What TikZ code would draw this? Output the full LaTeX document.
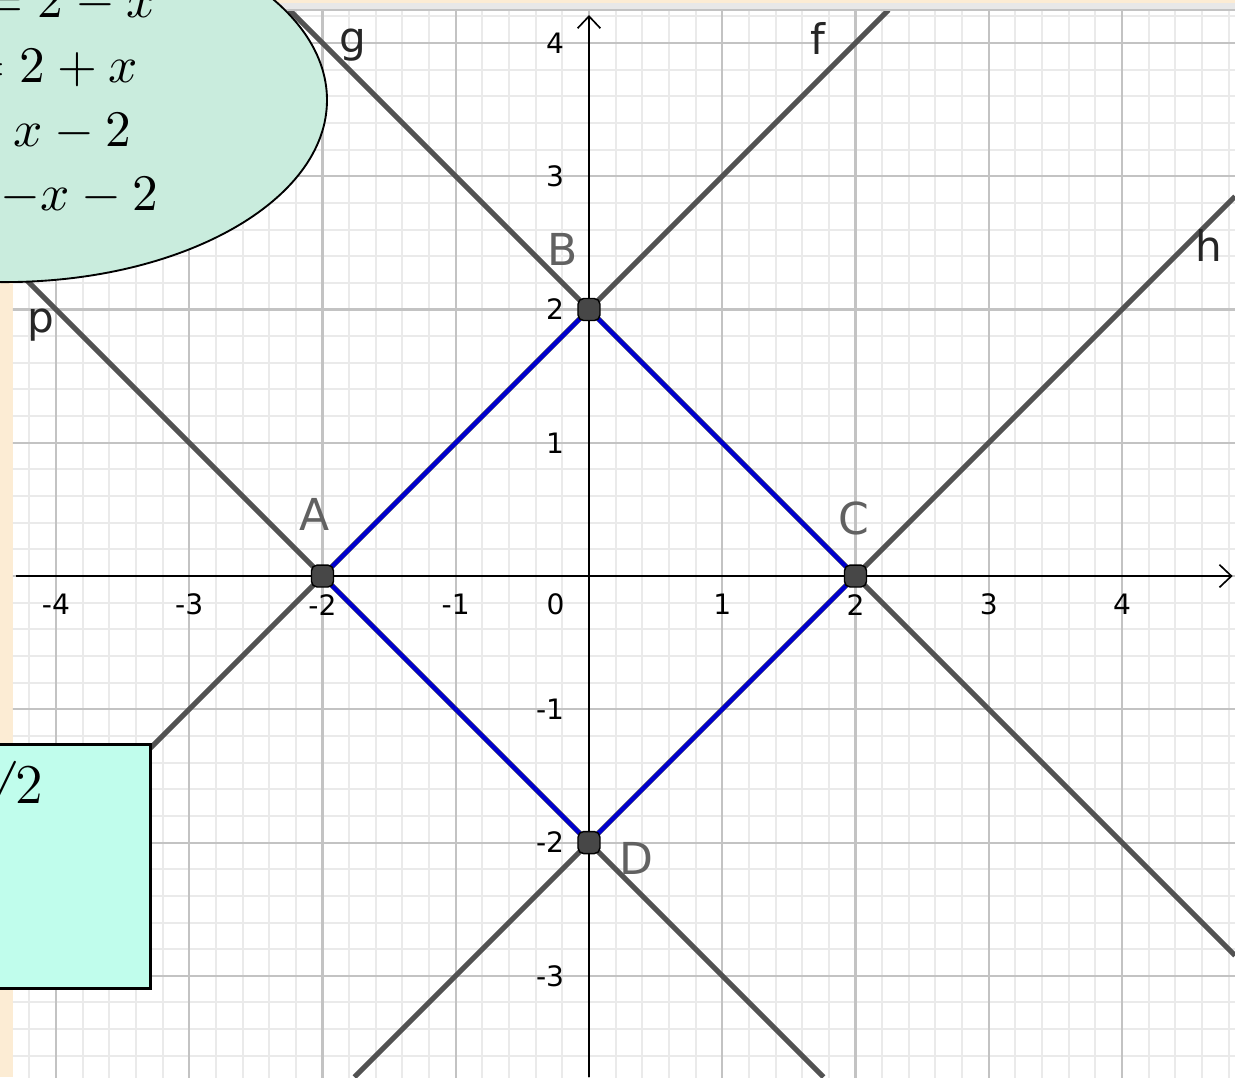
\documentclass[tikz,border=0pt]{standalone}
\usepackage{fontspec}
\setsansfont{DejaVu Sans}
\usetikzlibrary{shapes.geometric,arrows.meta}
\definecolor{paper}{RGB}{252,236,212}
\definecolor{panel}{RGB}{232,232,232}
\definecolor{minorgrid}{RGB}{234,234,234}
\definecolor{majorgrid}{RGB}{195,195,195}
\definecolor{linegray}{RGB}{82,82,82}
\definecolor{sqblue}{RGB}{0,0,205}
\definecolor{bubblegreen}{RGB}{201,236,221}
\definecolor{noteaqua}{RGB}{192,253,236}
\tikzset{
  grid minor/.style={minorgrid, line width=0.43pt},
  grid major/.style={majorgrid, line width=0.45pt},
  axis line/.style={black, line width=0.35pt, -{Straight Barb[length=0.9mm, width=1.7mm]}},
  graph line/.style={linegray, line width=1.1pt},
  side/.style={sqblue, line width=0.9pt},
  vertex/.style={rectangle, rounded corners=1.2pt, fill=black!72, draw=black, line width=0.3pt, minimum size=0.165cm, inner sep=0pt},
  vertex label/.style={font=\sffamily\fontsize{9.4}{10}\selectfont, text=black!62, inner sep=0pt},
  line label/.style={font=\sffamily\fontsize{9}{10}\selectfont, text=black!85, inner sep=0pt},
  tick label/.style={font=\sffamily\fontsize{6}{7}\selectfont, inner sep=0pt},
  bubble text/.style={font=\fontsize{11}{13}\selectfont, anchor=base west, inner sep=0pt},
}

\begin{document}
\begin{tikzpicture}
  \useasboundingbox (-4.42,-3.76) rectangle (4.848,4.323);
  \fill[paper] (-4.42,-3.76) rectangle (4.848,4.323);
  \fill[panel] (-4.323,4.24) rectangle (4.848,4.30);
  \fill[white] (-4.323,-3.76) rectangle (4.848,4.24);
  \draw[grid major] (-4.323,4.245) -- (4.848,4.245);

  \coordinate (A) at (-2,0);
  \coordinate (B) at (0,2);
  \coordinate (C) at (2,0);
  \coordinate (D) at (0,-2);
  \coordinate (f1) at (-4.323,-2.323);
  \coordinate (f2) at (2.248,4.248);
  \coordinate (g1) at (-2.248,4.248);
  \coordinate (g2) at (4.848,-2.848);
  \coordinate (h1) at (-1.76,-3.76);
  \coordinate (h2) at (4.848,2.848);
  \coordinate (p1) at (-4.323,2.323);
  \coordinate (p2) at (1.76,-3.76);
  \coordinate (xstart) at (-4.30,0);
  \coordinate (xend) at (4.83,0);
  \coordinate (ystart) at (0,-3.76);
  \coordinate (yend) at (0,4.21);

  \begin{scope}
    \clip (-4.323,-3.76) rectangle (4.848,4.24);
    \draw[grid minor, step=0.2] (-4.4,-3.8) grid (4.9,4.3);
    \draw[grid major, step=1] (-4.4,-3.8) grid (4.9,4.3);
    \draw[axis line] (xstart) -- (xend);
    \draw[axis line] (ystart) -- (yend);
    \draw[graph line] (f1) -- (f2);
    \draw[graph line] (g1) -- (g2);
    \draw[graph line] (h1) -- (h2);
    \draw[graph line] (p1) -- (p2);
    \draw[side, line join=round] (A) -- (B) -- (C) -- (D) -- cycle;
  \end{scope}

  \foreach \x in {-4,-3,-2,-1,1,2,3,4}
    \node[tick label] (xt\x) at (\x,-0.215) {\x};
  \node[tick label] (xt0) at (-0.25,-0.215) {0};
  \foreach \y in {-3,-2,-1,1,2,3,4}
    \node[tick label, anchor=east] (yt\y) at (-0.18,\y) {\y};

  \node[vertex] (A dot) at (A) {};
  \node[vertex] (B dot) at (B) {};
  \node[vertex] (C dot) at (C) {};
  \node[vertex] (D dot) at (D) {};
  \node[vertex label] (A name) at (-2.063,0.465) {A};
  \node[vertex label] (B name) at (-0.195,2.454) {B};
  \node[vertex label] (C name) at (1.989,0.435) {C};
  \node[vertex label] (D name) at (0.353,-2.116) {D};

  \node[line label] (f name) at (1.718,4.037) {f};
  \node[line label, anchor=base] (g name) at (-1.771,3.932) {g};
  \node[line label] (h name) at (4.653,2.484) {h};
  \node[line label, anchor=base] (p name) at (-4.113,1.824) {p};

  \node[ellipse, draw, fill=bubblegreen, line width=0.4pt, inner sep=0pt,
        minimum width=4.834cm, minimum height=2.732cm] (bubble) at (-4.383,3.572) {};
  \node[bubble text] (eq g) at (-4.548,4.195) {$=2-x$};
  \node[bubble text] (eq f) at (-4.683,3.707) {$=2+x$};
  \node[bubble text] (eq h) at (-4.323,3.227) {$x-2$};
  \node[bubble text] (eq p) at (-4.420,2.746) {$-x-2$};

  \node[draw, fill=noteaqua, line width=0.7pt, inner sep=0pt, anchor=north east,
        minimum width=1.6cm, minimum height=1.831cm] (note) at (-3.28,-1.253) {};
  \node[font=\fontsize{12.5}{14}\selectfont, inner sep=0pt, anchor=base east] (note text) at (-4.09,-1.704) {$\surd 2$};
\end{tikzpicture}
\end{document}
